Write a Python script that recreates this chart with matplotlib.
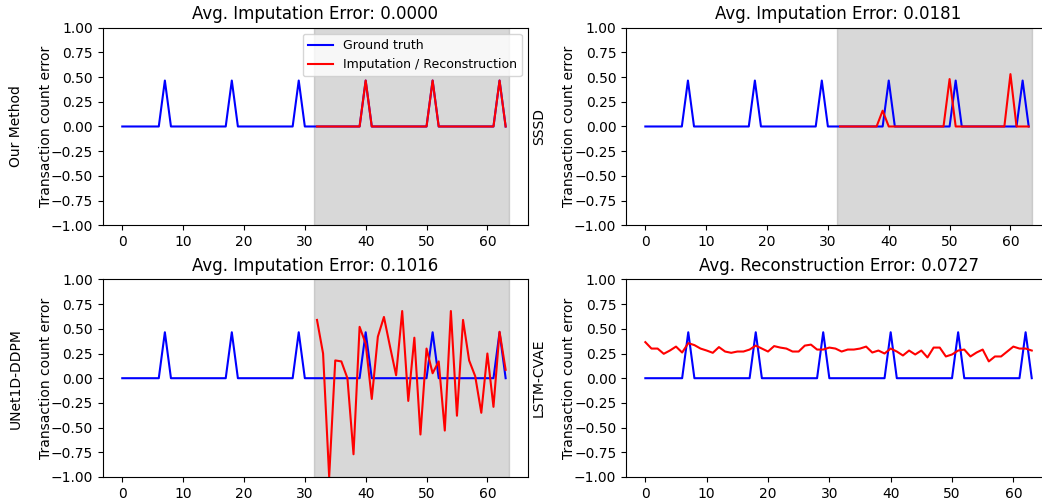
import matplotlib
matplotlib.use("Agg")
from matplotlib import pyplot as plt

# time steps 0..63
steps = list(range(64))

ground_truth = [0, 0, 0, 0, 0, 0, 0, 0.465, 0, 0, 0, 0, 0, 0, 0, 0,
                0, 0, 0.465, 0, 0, 0, 0, 0, 0, 0, 0, 0, 0, 0.465, 0, 0,
                0, 0, 0, 0, 0, 0, 0, 0, 0.465, 0, 0, 0, 0, 0, 0, 0,
                0, 0, 0, 0.465, 0, 0, 0, 0, 0, 0, 0, 0, 0, 0, 0.465, 0]

# imputed part (steps 32..63)
imp_steps = steps[32:]

ours = [0, 0, 0, 0, 0, 0, 0, 0, 0.465, 0, 0, 0, 0, 0, 0, 0,
        0, 0, 0, 0.465, 0, 0, 0, 0, 0, 0, 0, 0, 0, 0, 0.465, 0]

sssd = [0, 0, 0, 0, 0, 0, 0, 0.16, 0, 0, 0, 0, 0, 0, 0, 0,
        0, 0, 0.48, 0, 0, 0, 0, 0, 0, 0, 0, 0, 0.53, 0, 0, 0]

unet = [0.59, 0.25, -1.0, 0.18, 0.17, 0.0, -0.77, 0.52, 0.35, -0.21, 0.42, 0.62,
        0.32, 0.03, 0.68, -0.23, 0.41, -0.57, 0.30, 0.05, 0.17, -0.53, 0.68, -0.38,
        0.59, 0.18, 0.02, -0.35, 0.25, -0.29, 0.47, 0.085]

# reconstruction over all steps
lstm = [0.365, 0.30, 0.30, 0.247, 0.28, 0.32, 0.26, 0.355, 0.335, 0.30, 0.28, 0.257,
        0.315, 0.27, 0.257, 0.27, 0.27, 0.29, 0.33, 0.30, 0.27, 0.325, 0.31, 0.30,
        0.27, 0.27, 0.33, 0.34, 0.29, 0.29, 0.31, 0.30, 0.27, 0.29, 0.29, 0.30,
        0.32, 0.26, 0.28, 0.25, 0.30, 0.27, 0.23, 0.28, 0.24, 0.28, 0.21, 0.31,
        0.31, 0.22, 0.24, 0.28, 0.29, 0.22, 0.26, 0.29, 0.17, 0.22, 0.22, 0.27,
        0.32, 0.30, 0.30, 0.28]

methods = ["Our Method", "SSSD", "UNet1D-DDPM", "LSTM-CVAE"]
titles = ["Avg. Imputation Error: 0.0000", "Avg. Imputation Error: 0.0181",
          "Avg. Imputation Error: 0.1016", "Avg. Reconstruction Error: 0.0727"]
preds = [(imp_steps, ours), (imp_steps, sssd), (imp_steps, unet), (steps, lstm)]
shaded = [True, True, True, False]

fig, axes = plt.subplots(2, 2, figsize=(10.42, 4.99), dpi=100)
plt.subplots_adjust(left=0.0988, right=1.0087, top=0.9445, bottom=0.0441,
                    wspace=0.2306, hspace=0.274)

for i, ax in enumerate(axes.flat):
    if shaded[i]:
        ax.axvspan(31.5, 63.5, color='gray', alpha=0.3)
    ax.plot(steps, ground_truth, 'blue', label='Ground truth', linewidth=1.5)
    px, py = preds[i]
    ax.plot(px, py, 'red', label='Imputation / Reconstruction', linewidth=1.5)
    ax.set_ylim(-1, 1)
    ax.set_yticks([-1, -0.75, -0.5, -0.25, 0, 0.25, 0.5, 0.75, 1])
    ax.set_title(titles[i], fontsize=12)
    ax.set_ylabel('Transaction count error', labelpad=-1.5)
    ax.text(-0.205, 0.5, methods[i], rotation=90, va='center', ha='center',
            transform=ax.transAxes, fontsize=10)
    if i == 0:
        ax.legend(loc='upper right', fontsize=9)

plt.savefig('out.png', dpi=100)
